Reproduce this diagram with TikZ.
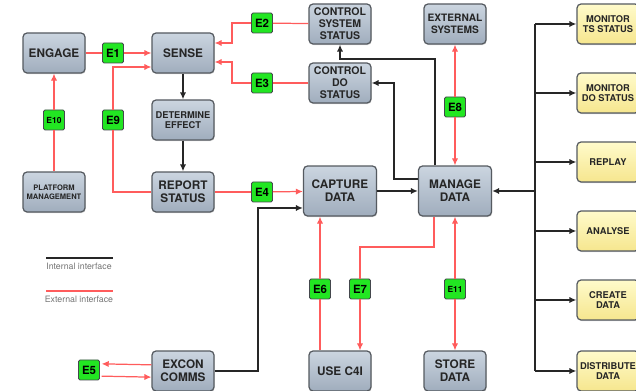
\documentclass[tikz,border=0pt]{standalone}
\usepackage{fontspec}
\setmainfont{TeX Gyre Heros}
\usepackage{tikz}
\usetikzlibrary{arrows.meta,shadows}

\definecolor{boxtop}{HTML}{CBD5E0}
\definecolor{boxbot}{HTML}{A0ADBD}
\definecolor{yeltop}{HTML}{FFFBCB}
\definecolor{yelbot}{HTML}{F6E68E}
\definecolor{tagfill}{HTML}{22E622}
\definecolor{extred}{HTML}{FF5C5C}
\definecolor{edge}{HTML}{555A60}

\begin{document}
\begin{tikzpicture}[x=0.02cm,y=-0.02cm,
  box/.style={draw=edge, line width=0.7pt, rounded corners=2.3pt, align=center,
              top color=boxtop, bottom color=boxbot, text=black!85,
              minimum width=1.24cm, minimum height=0.8cm, inner sep=1pt,
              font=\bfseries\fontsize{6.7}{7.3}\selectfont,
              drop shadow={shadow xshift=0.4pt, shadow yshift=-0.6pt, opacity=0.35}},
  bigbox/.style={box, minimum width=1.46cm, minimum height=1.0cm},
  outbox/.style={box, top color=yeltop, bottom color=yelbot,
                 font=\bfseries\fontsize{5.3}{6}\selectfont},
  tag/.style={draw=edge!80!black, line width=0.5pt, fill=tagfill, rounded corners=0.8pt,
              minimum width=0.42cm, minimum height=0.4cm, inner sep=0pt,
              font=\bfseries\fontsize{6.5}{7}\selectfont},
  ext/.style={draw=extred, line width=0.7pt},
  extar/.style={ext, -{Latex[length=4pt,width=3.6pt]}},
  int/.style={draw=black!85, line width=0.9pt},
  intar/.style={int, -{Latex[length=4pt,width=3.6pt]}},
  legtxt/.style={text=black!55, font=\fontsize{5}{6}\selectfont, inner sep=0pt}]
\useasboundingbox (0,0) rectangle (636,391);

% functions
\node[box] (eng)   at (54,53)   {ENGAGE};
\node[box] (sense) at (183,53)  {SENSE};
\node[box,font=\bfseries\fontsize{5.3}{6}\selectfont] (det) at (183,120) {DETERMINE\\EFFECT};
\node[box] (rep)   at (183,192) {REPORT\\STATUS};
\node[box,font=\bfseries\fontsize{4.3}{5.2}\selectfont] (plat) at (54,192) {PLATFORM\\MANAGEMENT};
\node[box,font=\bfseries\fontsize{6}{6.8}\selectfont] (css) at (340,24) {CONTROL\\SYSTEM\\STATUS};
\node[box,font=\bfseries\fontsize{6}{6.8}\selectfont] (cds) at (340,83) {CONTROL\\DO\\STATUS};
\node[box,font=\bfseries\fontsize{5.8}{6.8}\selectfont] (ext) at (455,24) {EXTERNAL\\SYSTEMS};
\node[bigbox] (cap) at (340,191) {CAPTURE\\DATA};
\node[bigbox] (man) at (455,191) {MANAGE\\DATA};
\node[box] (c4i)   at (340,371) {USE C4I};
\node[box] (store) at (455,371) {STORE\\DATA};
\node[box] (excon) at (183,371) {EXCON\\COMMS};

% outputs
\node[outbox] (mts)  at (608,24)  {MONITOR\\TS STATUS};
\node[outbox] (mds)  at (608,93)  {MONITOR\\DO STATUS};
\node[outbox] (rpl)  at (608,162) {REPLAY};
\node[outbox] (ana)  at (608,231) {ANALYSE};
\node[outbox] (cre)  at (608,300) {CREATE\\DATA};
\node[outbox] (dist) at (608,371) {DISTRIBUTE\\DATA};

% external interface tags
\node[tag] (e1)  at (113,53)  {E1};
\node[tag] (e2)  at (262,23)  {E2};
\node[tag] (e3)  at (262,83)  {E3};
\node[tag] (e4)  at (262,192) {E4};
\node[tag] (e5)  at (89,370)  {E5};
\node[tag] (e6)  at (320,289) {E6};
\node[tag] (e7)  at (360,289) {E7};
\node[tag] (e8)  at (455,107) {E8};
\node[tag] (e9)  at (113,120) {E9};
\node[tag,font=\bfseries\fontsize{4.8}{5}\selectfont] (e10) at (54,120)  {E10};
\node[tag,font=\bfseries\fontsize{4.8}{5}\selectfont] (e11) at (455,289) {E11};

% bends
\coordinate (j2) at (232,43);
\coordinate (j3) at (232,62);
\coordinate (j9) at (113,67);
\coordinate (k1) at (435,59);
\coordinate (k2) at (394,179);
\coordinate (k3) at (258,208);
\coordinate (k7) at (434,247);
\coordinate (b1) at (535,24);
\coordinate (b6) at (535,371);

% internal interfaces
\draw[intar] (sense) -- (det);
\draw[intar] (det) -- (rep);
\draw[intar] (cap) -- (man);
\draw[intar] (k1 |- man.north) -- (k1) -| (css);
\draw[intar] (k2 -| man.west) -- (k2) |- (cds);
\draw[intar] (excon.east) -| (k3) -- (k3 -| cap.west);
\draw[int] (b1) -- (b6);
\foreach \n in {mts,mds,rpl,ana,cre,dist}
  \draw[intar] (b1 |- \n) -- (\n);
\draw[intar] (b1 |- man) -- (man);

% external interfaces
\draw[ext] (eng) -- (e1);
\draw[extar] (e1) -- (sense);
\draw[ext] (plat) -- (e10);
\draw[extar] (e10) -- (eng);
\draw[ext] (css) -- (e2);
\draw[extar] (e2) -| (j2) -- (j2 -| sense.east);
\draw[ext] (cds) -- (e3);
\draw[extar] (e3) -| (j3) -- (j3 -| sense.east);
\draw[ext] (rep.west) -| (e9);
\draw[extar] (e9) -- (j9) -- (j9 -| sense.west);
\draw[ext] (rep) -- (e4);
\draw[extar] (e4) -- (cap);
\draw[extar] (e8) -- (ext);
\draw[extar] (e8) -- (man);
\draw[extar] (e11) -- (man);
\draw[extar] (e11) -- (store);
\draw[ext] (e6 |- c4i.north) -- (e6);
\draw[extar] (e6) -- (e6 |- cap.south);
\draw[ext] (k7 |- man.south) -- (k7) -| (e7);
\draw[extar] (e7) -- (e7 |- c4i.north);
\draw[extar] ([yshift=3.5pt]excon.west) -- ([yshift=3.5pt,xshift=1pt]e5.east);
\draw[extar] ([yshift=-3.5pt,xshift=1pt]e5.east) -- ([yshift=-3.5pt]excon.west);

% legend
\draw[int, line width=0.8pt] (46,258) -- (113,258);
\node[legtxt] (lint) at (79,266) {Internal interface};
\draw[ext] (46,291) -- (113,291);
\node[legtxt] (lext) at (79,299) {External interface};
\end{tikzpicture}
\end{document}
